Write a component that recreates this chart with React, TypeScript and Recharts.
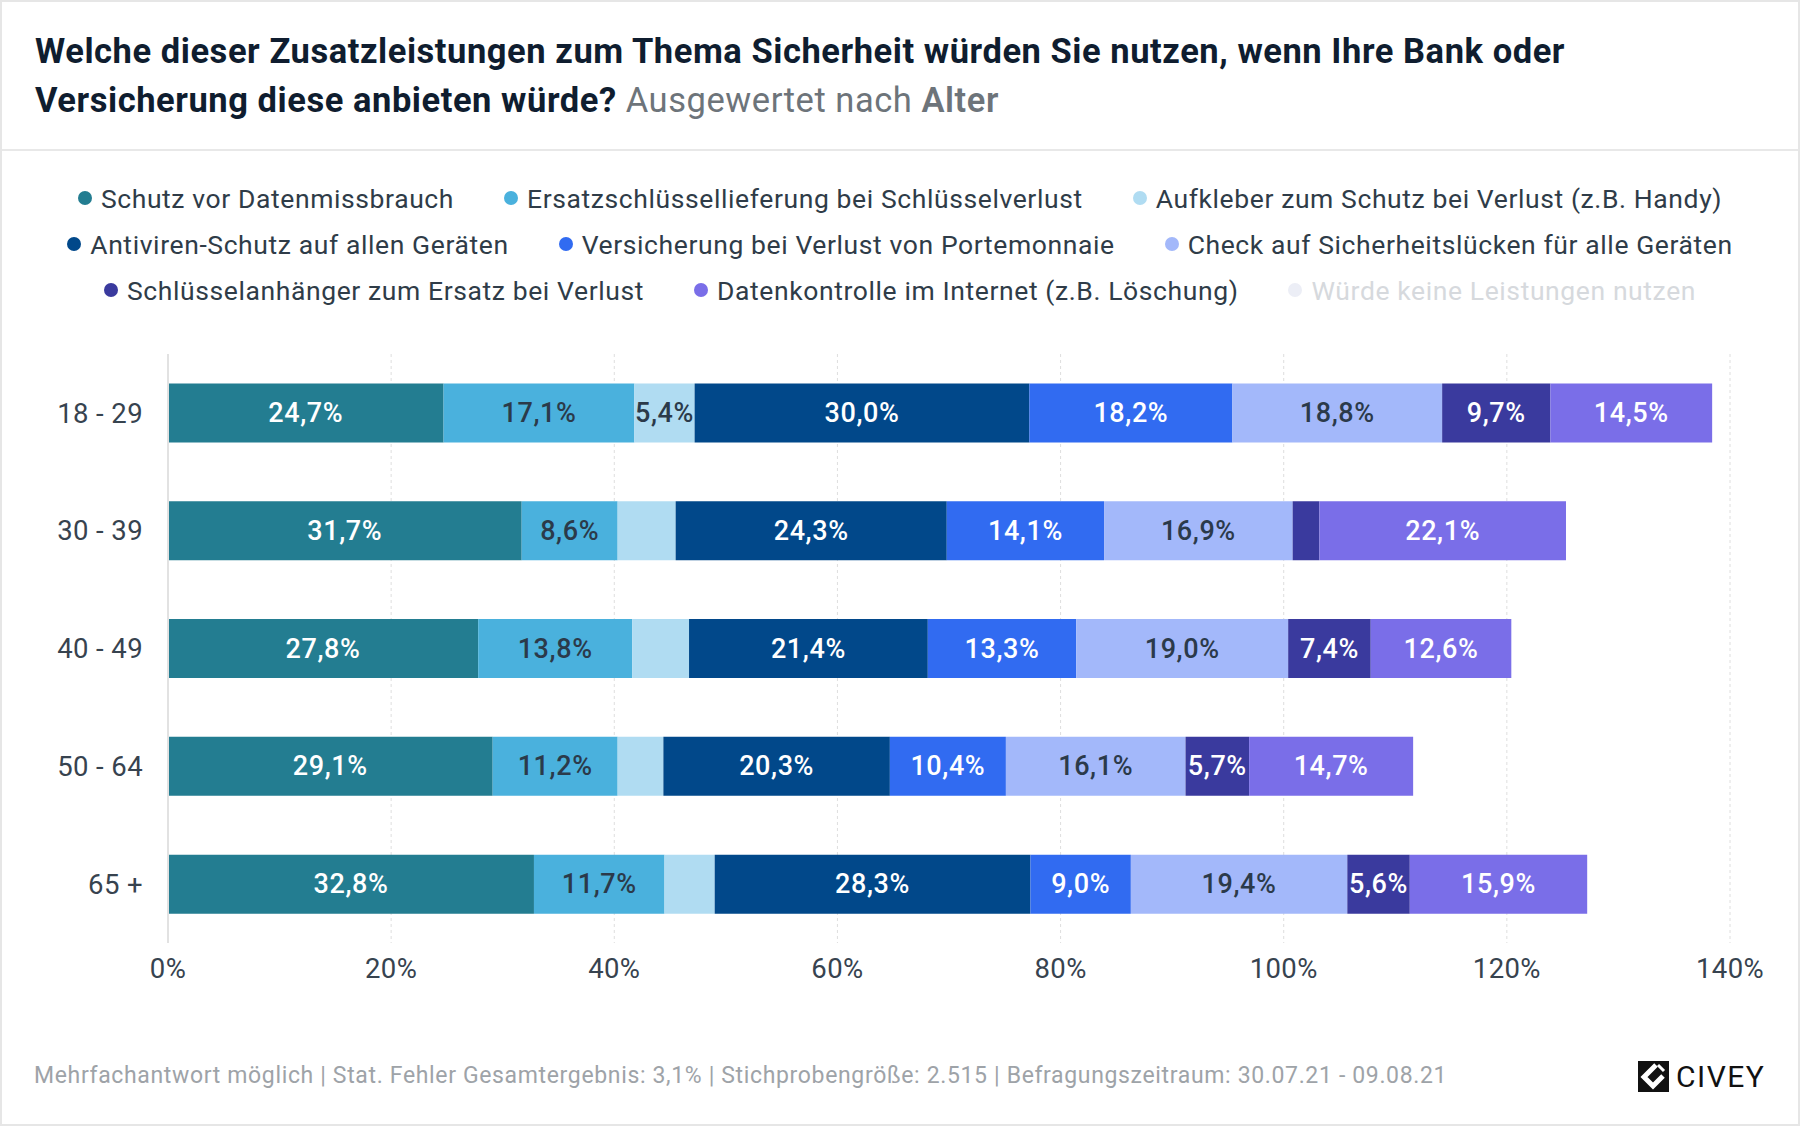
import React from 'react';
import { BarChart, Bar, XAxis, YAxis, CartesianGrid, Legend, LabelList } from 'recharts';

const categories = ['18 - 29', '30 - 39', '40 - 49', '50 - 64', '65 +'];

const schutzVorDatenmissbrauch = [24.7, 31.7, 27.8, 29.1, 32.8];
const ersatzschluessellieferung = [17.1, 8.6, 13.8, 11.2, 11.7];
const aufkleberSchutz = [5.4, 5.2, 5.1, 4.1, 4.5];
const antivirenSchutz = [30.0, 24.3, 21.4, 20.3, 28.3];
const versicherungPortemonnaie = [18.2, 14.1, 13.3, 10.4, 9.0];
const checkSicherheitsluecken = [18.8, 16.9, 19.0, 16.1, 19.4];
const schluesselanhaenger = [9.7, 2.4, 7.4, 5.7, 5.6];
const datenkontrolle = [14.5, 22.1, 12.6, 14.7, 15.9];

const xTicks = [0, 20, 40, 60, 80, 100, 120, 140];

const seriesNames = [
  'Schutz vor Datenmissbrauch',
  'Ersatzschlüssellieferung bei Schlüsselverlust',
  'Aufkleber zum Schutz bei Verlust (z.B. Handy)',
  'Antiviren-Schutz auf allen Geräten',
  'Versicherung bei Verlust von Portemonnaie',
  'Check auf Sicherheitslücken für alle Geräten',
  'Schlüsselanhänger zum Ersatz bei Verlust',
  'Datenkontrolle im Internet (z.B. Löschung)',
  'Würde keine Leistungen nutzen',
];

const seriesValues = [
  schutzVorDatenmissbrauch,
  ersatzschluessellieferung,
  aufkleberSchutz,
  antivirenSchutz,
  versicherungPortemonnaie,
  checkSicherheitsluecken,
  schluesselanhaenger,
  datenkontrolle,
  null,
];

const seriesColors = ['#237d91', '#4ab1dd', '#b0dcf2', '#01488a', '#316bf1', '#a3b8fa', '#3a3a9e', '#7a6ee8', '#eceef6'];
const labelColors = ['#ffffff', '#2b3a4a', '#2b3a4a', '#ffffff', '#ffffff', '#2b3a4a', '#ffffff', '#ffffff', '#ffffff'];

const MIN_LABEL_VALUE = 5.3;
const FONT = 'Roboto, "Noto Sans", sans-serif';

const data = categories.map((cat, i) => {
  const row: Record<string, any> = { age: cat };
  seriesValues.forEach((vals, s) => {
    if (vals) row[`s${s}`] = vals[i];
  });
  return row;
});

const fmt = (v: number) => `${v.toFixed(1).replace('.', ',')}%`;

const makeLabel = (color: string) => (props: any) => {
  const { x, y, width, height, value } = props;
  if (value == null || value < MIN_LABEL_VALUE) return null;
  return (
    <text
      x={x + width / 2}
      y={y + height / 2}
      textAnchor="middle"
      dominantBaseline="central"
      fill={color}
      fontSize={27}
      fontWeight={500}
      fontFamily={FONT}
      letterSpacing={0.6}
    >
      {fmt(value)}
    </text>
  );
};

const renderLegend = (props: any) => {
  const payload = [...(props.payload || [])].sort(
    (a: any, b: any) => seriesNames.indexOf(a.value) - seriesNames.indexOf(b.value)
  );
  const rows: any[][] = [];
  for (let i = 0; i < payload.length; i += 3) rows.push(payload.slice(i, i + 3));
  return (
    <div style={{ width: 1800, fontFamily: FONT }}>
      {rows.map((row, r) => (
        <div key={r} style={{ display: 'flex', justifyContent: 'center', alignItems: 'center', height: 46, gap: 50 }}>
          {row.map((item: any) => {
            const idx = seriesNames.indexOf(item.value);
            const inactive = !!item.inactive;
            return (
              <div key={item.value} style={{ display: 'flex', alignItems: 'center' }}>
                <span
                  style={{
                    display: 'inline-block',
                    width: 14,
                    height: 14,
                    borderRadius: 7,
                    background: inactive ? '#eceef6' : seriesColors[idx],
                    marginRight: 9,
                  }}
                />
                <span style={{ fontSize: 26.5, letterSpacing: 0.6, color: inactive ? '#d6d9dd' : '#2f3c48', whiteSpace: 'nowrap' }}>
                  {item.value}
                </span>
              </div>
            );
          })}
        </div>
      ))}
    </div>
  );
};

export default function App() {
  return (
    <div style={{ position: 'absolute', left: 0, top: 0, width: 1800, height: 1126, background: '#fff', fontFamily: FONT, overflow: 'hidden' }}>
      <div style={{ position: 'absolute', left: 35, top: 27, fontSize: 34.5, letterSpacing: 0.55, lineHeight: '48.5px', color: '#0f1d2f', fontWeight: 700, width: 1740, whiteSpace: 'nowrap' }}>
        Welche dieser Zusatzleistungen zum Thema Sicherheit würden Sie nutzen, wenn Ihre Bank oder
        <br />
        Versicherung diese anbieten würde?{' '}
        <span style={{ color: '#6d747a', fontWeight: 400 }}>Ausgewertet nach </span>
        <span style={{ color: '#6d747a', fontWeight: 600 }}>Alter</span>
      </div>
      <div style={{ position: 'absolute', left: 0, top: 149, width: 1800, height: 2, background: '#e8e8e8' }} />

      <div style={{ position: 'absolute', left: 0, top: 0 }}>
        <BarChart
          width={1800}
          height={1126}
          data={data}
          layout="vertical"
          margin={{ top: 354, right: 70, bottom: 143, left: 0 }}
          barCategoryGap="25%"
        >
          <CartesianGrid horizontal={false} vertical={true} stroke="#dedede" strokeDasharray="3 3" />
          <XAxis
            type="number"
            domain={[0, 140]}
            ticks={xTicks}
            tickFormatter={(v: number) => `${v}%`}
            axisLine={false}
            tickLine={false}
            tickSize={0}
            tickMargin={15}
            height={40}
            interval={0}
            tick={{ fill: '#37434f', fontSize: 27.5, fontFamily: FONT, letterSpacing: 0.4 }}
          />
          <YAxis
            type="category"
            dataKey="age"
            width={168}
            axisLine={{ stroke: '#e2e2e2', strokeWidth: 2 }}
            tickLine={false}
            tickSize={0}
            tickMargin={25}
            tick={{ fill: '#37434f', fontSize: 27.5, fontFamily: FONT, letterSpacing: 0.4 }}
          />
          <Legend
            content={renderLegend}
            layout="horizontal"
            verticalAlign="middle"
            align="center"
            wrapperStyle={{ top: 175, left: 0, width: 1800 }}
          />
          {seriesNames.map((name, s) => (
            <Bar
              key={name}
              dataKey={`s${s}`}
              name={name}
              stackId="a"
              fill={seriesColors[s]}
              isAnimationActive={false}
              hide={seriesValues[s] === null}
            >
              <LabelList dataKey={`s${s}`} content={makeLabel(labelColors[s])} />
            </Bar>
          ))}
        </BarChart>
      </div>

      <div style={{ position: 'absolute', left: 34, top: 1062, fontSize: 23, letterSpacing: 0.65, lineHeight: '27px', color: '#9ea3a8', whiteSpace: 'nowrap' }}>
        Mehrfachantwort möglich | Stat. Fehler Gesamtergebnis: 3,1% | Stichprobengröße: 2.515 | Befragungszeitraum: 30.07.21 - 09.08.21
      </div>

      <div style={{ position: 'absolute', left: 1638, top: 1061, display: 'flex', alignItems: 'center' }}>
        <svg width={31} height={31} viewBox="0 0 31 31">
          <rect x={0} y={0} width={31} height={31} fill="#111" />
          <path d="M18 4 L6 16 L15 25 L25 15" fill="none" stroke="#fff" strokeWidth={5} strokeLinejoin="miter" />
          <path d="M20 4 L26 10" stroke="#fff" strokeWidth={3} />
        </svg>
        <span style={{ marginLeft: 7, fontSize: 30, lineHeight: '31px', color: '#111', fontWeight: 400, letterSpacing: 1.5 }}>CIVEY</span>
      </div>

      <div style={{ position: 'absolute', inset: 0, border: '2px solid #e6e6e6', pointerEvents: 'none' }} />
    </div>
  );
}
